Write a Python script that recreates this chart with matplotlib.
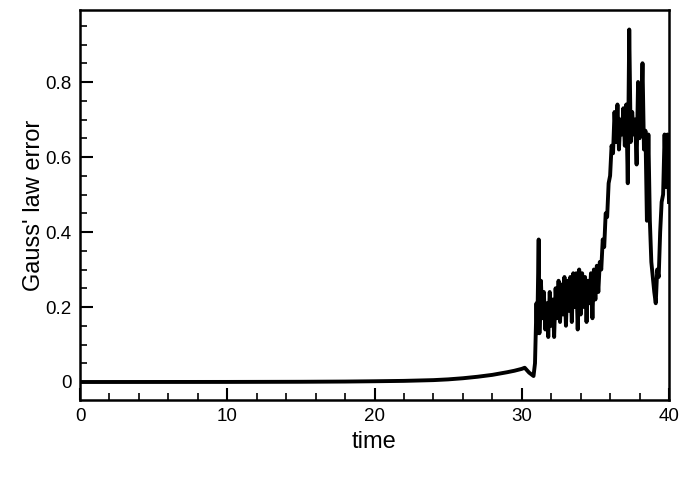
import matplotlib
matplotlib.use("Agg")
import matplotlib.pyplot as plt
from matplotlib.ticker import MultipleLocator

plt.rcParams['font.family'] = ['Liberation Sans', 'DejaVu Sans']

# smooth growth phase
t_smooth = [0, 5, 10, 15, 18, 20, 22, 24, 25, 26, 27, 28, 29, 29.5, 30.0, 30.2,
            30.5, 30.8, 30.9, 31.0, 31.05, 31.15]
v_smooth = [0.0, 0.0001, 0.0002, 0.0006, 0.0012, 0.002, 0.003, 0.005, 0.007, 0.010,
            0.014, 0.019, 0.026, 0.030, 0.035, 0.038, 0.025, 0.016, 0.05, 0.21,
            0.13, 0.38]

# noisy phase, sampled every 0.1 from t=31.2 to 40.0
t_noisy = [round(31.2 + 0.1 * i, 1) for i in range(89)]
v_noisy = [0.13, 0.27, 0.17, 0.24, 0.14, 0.21, 0.12, 0.24, 0.15, 0.22,
           0.12, 0.25, 0.17, 0.27, 0.16, 0.26, 0.18, 0.28, 0.15, 0.27,
           0.19, 0.28, 0.16, 0.29, 0.20, 0.29, 0.14, 0.30, 0.18, 0.29,
           0.20, 0.28, 0.16, 0.27, 0.21, 0.29, 0.17, 0.30, 0.22, 0.31,
           0.24, 0.32, 0.30, 0.38, 0.36, 0.45, 0.44, 0.53, 0.55, 0.63,
           0.61, 0.72, 0.64, 0.74, 0.62, 0.70, 0.66, 0.73, 0.63, 0.74,
           0.53, 0.94, 0.64, 0.72, 0.66, 0.70, 0.58, 0.80, 0.65, 0.69,
           0.85, 0.62, 0.67, 0.43, 0.66, 0.43, 0.32, 0.28, 0.24, 0.21,
           0.30, 0.28, 0.40, 0.48, 0.50, 0.66, 0.52, 0.66, 0.48]

t = t_smooth + t_noisy
v = v_smooth + v_noisy

fig = plt.figure(figsize=(6.8, 4.8), dpi=100)
ax = fig.add_axes([80/680, 80/480, (669-80)/680, (400-10)/480])
ax.plot(t, v, color='black', linewidth=2.8)

ax.set_xlim(0, 40)
ax.set_ylim(-0.048, 0.992)
ax.xaxis.set_minor_locator(MultipleLocator(2))
ax.yaxis.set_minor_locator(MultipleLocator(0.05))
ax.set_yticks([0, 0.2, 0.4, 0.6, 0.8])
ax.set_yticklabels(['0', '0.2', '0.4', '0.6', '0.8'])
ax.set_xticks([0, 10, 20, 30, 40])
ax.set_xticklabels(['0', '10', '20', '30', '40'])

ax.tick_params(which='both', direction='in', top=False, right=False,
               labelsize=13.5, width=1.5)
ax.tick_params(which='major', length=9, pad=6)
ax.tick_params(which='minor', length=5, width=1.2)
for s in ax.spines.values():
    s.set_linewidth(1.8)

ax.set_xlabel('time', fontsize=17, labelpad=4)
ax.set_ylabel("Gauss' law error", fontsize=17, labelpad=0)

fig.savefig('out.png', dpi=100)
